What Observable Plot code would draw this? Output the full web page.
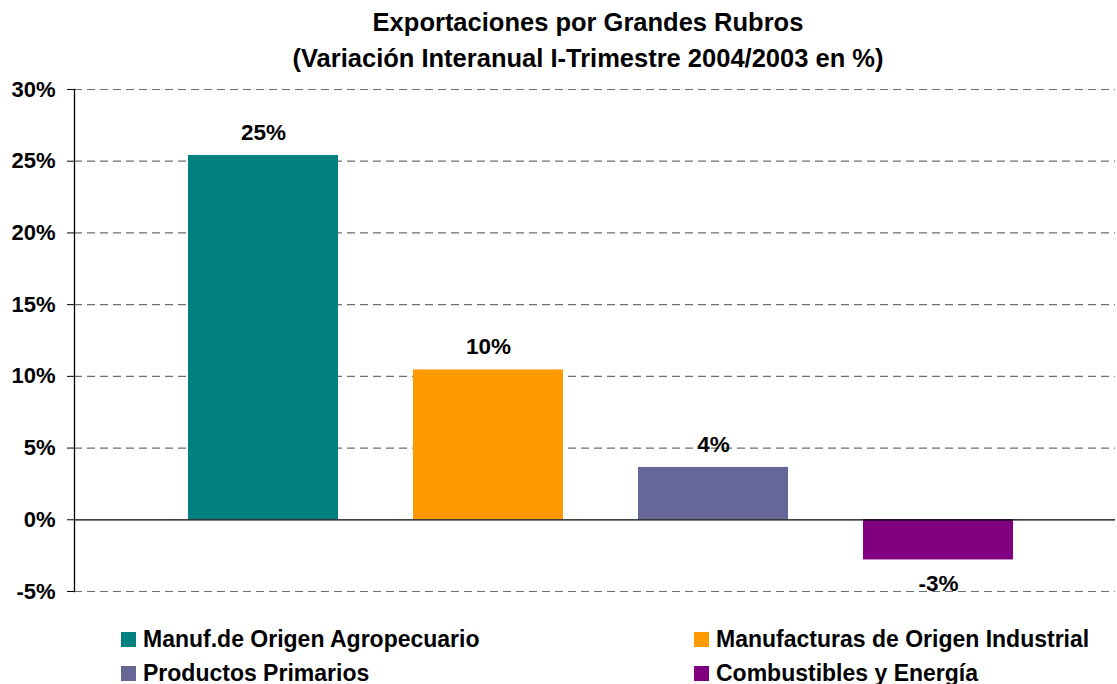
<!DOCTYPE html>
<html>
<head>
<meta charset="utf-8">
<script src="https://cdn.jsdelivr.net/npm/d3@7"></script>
<script src="https://cdn.jsdelivr.net/npm/@observablehq/plot@0.6"></script>
<style>
  html, body { margin: 0; padding: 0; background: #fff; overflow: hidden; }
  body { width: 1117px; height: 684px; position: relative; font-family: "Liberation Sans", Arial, sans-serif; }
  #chart { position: absolute; left: 0; top: 0; z-index: 0; }
  #title { position: absolute; left: 0; width: 1176px; top: 4px; text-align: center; font-weight: bold; font-size: 25.5px; line-height: 36px; color: #000; z-index: 2; }
  #legend { position: absolute; left: 0; top: 0; z-index: 2; }
  .leg { position: absolute; font-weight: bold; font-size: 23px; color: #000; white-space: nowrap; }
  .leg span.sw { position: absolute; left: 0; top: 4px; width: 15px; height: 15px; }
  .leg span.tx { position: absolute; left: 22px; top: -1px; line-height: 24px; }
</style>
</head>
<body>
<div id="chart"></div>
<div id="title">Exportaciones por Grandes Rubros<br>(Variación Interanual I-Trimestre 2004/2003 en %)</div>
<div id="legend"></div>
<script>
const categories = ["Manuf.de Origen Agropecuario", "Manufacturas de Origen Industrial", "Productos Primarios", "Combustibles y Energía"];
const values = [25.4, 10.45, 3.65, -2.8];
const colors = ["#008080", "#FF9900", "#666699", "#800080"];
const yTicks = [-5, 0, 5, 10, 15, 20, 25, 30];

const data = categories.map((c, i) => ({category: c, value: values[i], color: colors[i]}));
const fmt = v => `${Math.round(v)}%`;

const plot = Plot.plot({
  width: 1117,
  height: 684,
  marginTop: 89,
  marginBottom: 93,
  marginLeft: 74,
  marginRight: 2,
  style: {fontFamily: "'Liberation Sans', Arial, sans-serif", background: "white", color: "#000"},
  x: {domain: categories, range: [150.5, 1050.5], paddingInner: 1/3, paddingOuter: 1/6, axis: null},
  y: {domain: [-5, 30], ticks: yTicks},
  marks: [
    Plot.ruleY(yTicks.filter(d => d !== 0), {stroke: "#6e6e6e", strokeWidth: 1.2, strokeDasharray: "8,5"}),
    Plot.barY(data, {x: "category", y: "value", fill: "color"}),
    Plot.ruleY([0], {stroke: "#000", strokeWidth: 1.3}),
    Plot.frame({anchor: "left", stroke: "#000", strokeWidth: 1.3}),
    Plot.axisY({ticks: yTicks, tickSize: 7, tickPadding: 12, tickFormat: d => `${d}%`, fontSize: 22, fontWeight: "bold", stroke: "#000", label: null}),
    Plot.text(data.filter(d => d.value >= 0), {x: "category", y: "value", text: d => fmt(d.value), dy: -23, fontSize: 22.5, fontWeight: "bold", fill: "#000"}),
    Plot.text(data.filter(d => d.value < 0), {x: "category", y: "value", text: d => fmt(d.value), dy: 24, fontSize: 22.5, fontWeight: "bold", fill: "#000"})
  ]
});
document.getElementById("chart").appendChild(plot);

const legendPos = [[121, 628], [694, 628], [121, 662], [694, 662]];
const legend = document.getElementById("legend");
categories.forEach((c, i) => {
  const d = document.createElement("div");
  d.className = "leg";
  d.style.left = legendPos[i][0] + "px";
  d.style.top = legendPos[i][1] + "px";
  d.innerHTML = `<span class="sw" style="background:${colors[i]}"></span><span class="tx">${c}</span>`;
  legend.appendChild(d);
});
</script>
</body>
</html>
